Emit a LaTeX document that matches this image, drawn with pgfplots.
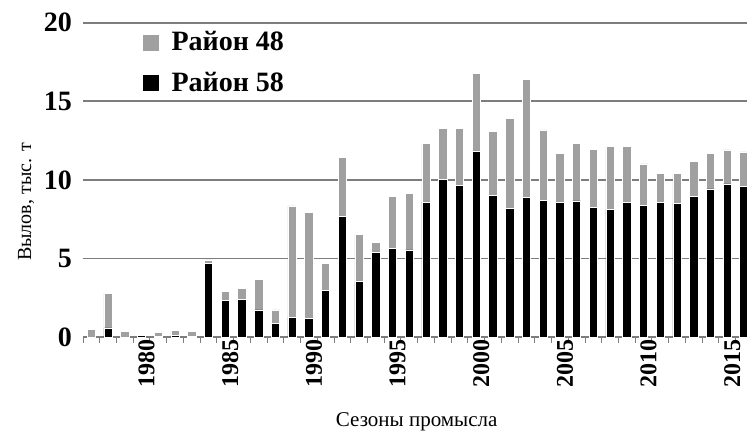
\documentclass[border=0pt]{standalone}
\usepackage{fontspec}
\setmainfont{Liberation Serif}
\usepackage{pgfplots}
\usepackage{pgfplotstable}
\pgfplotsset{compat=1.18}
\definecolor{bargray}{RGB}{160,160,160}
\definecolor{gridgray}{RGB}{125,125,125}
\pgfplotstableread{
year a58 a48
1977 0.00 0.52
1978 0.60 2.20
1979 0.00 0.35
1980 0.10 0.03
1981 0.05 0.28
1982 0.10 0.33
1983 0.05 0.30
1984 4.70 0.22
1985 2.35 0.55
1986 2.43 0.70
1987 1.74 1.95
1988 0.89 0.85
1989 1.27 7.08
1990 1.20 6.75
1991 3.00 1.70
1992 7.71 3.73
1993 3.54 3.01
1994 5.38 0.64
1995 5.63 3.35
1996 5.55 3.58
1997 8.60 3.73
1998 10.04 3.25
1999 9.66 3.63
2000 11.84 4.94
2001 9.03 4.07
2002 8.18 5.72
2003 8.88 7.52
2004 8.71 4.47
2005 8.58 3.12
2006 8.67 3.66
2007 8.26 3.69
2008 8.14 3.98
2009 8.60 3.52
2010 8.41 2.61
2011 8.60 1.80
2012 8.52 1.88
2013 8.98 2.18
2014 9.43 2.27
2015 9.75 2.16
2016 9.57 2.21
}\catchtable
\begin{document}
\begin{tikzpicture}
\begin{axis}[
  at={(83bp,93.7bp)}, anchor=south west,
  scale only axis,
  width=664bp, height=314.6bp,
  xmin=1976.5, xmax=2016.18,
  ymin=0, ymax=20,
  ybar stacked, bar width=0.5,
  axis line style={draw=none},
  xtick pos=bottom, ytick pos=left,
  tick align=outside,
  major tick length=0pt,
  minor tick length=5.5bp,
  xtick={1980,1985,...,2015},
  minor xtick={1976.5,1977.5,...,2015.5},
  minor tick style={draw=gridgray, line width=1bp},
  ytick={0,5,...,20},
  ymajorgrids=true,
  major grid style={draw=gridgray, line width=1.7bp},
  /pgf/number format/assume math mode=true,
  /pgf/number format/1000 sep={},
  xticklabel style={rotate=90, anchor=east, font=\fontsize{24bp}{26bp}\selectfont\bfseries, inner sep=2bp, yshift=-5bp},
  yticklabel style={font=\fontsize{28bp}{30bp}\selectfont\bfseries, inner sep=0pt, xshift=-11bp},
  xlabel={Сезоны промысла},
  ylabel={Вылов, тыс. т},
  xlabel style={at={(rel axis cs:0.5025,-0.282)}, anchor=base, font=\fontsize{21bp}{23bp}\selectfont},
  ylabel style={at={(rel axis cs:-0.0858,0.43)}, anchor=center, font=\fontsize{20bp}{22bp}\selectfont},
  reverse legend,
  legend style={at={(rel axis cs:0.0904,0.98)}, anchor=north west, draw=none, fill=none,
    font=\fontsize{28bp}{30bp}\selectfont\bfseries, row sep=16bp, inner sep=0pt},
  legend image code/.code={\path[#1,draw=none] (0bp,-9bp) rectangle (16bp,7bp); \path (16bp,0bp) -- (26bp,0bp);},
]
\addplot[fill=black, draw=white, line width=0.7bp] table[x=year, y=a58] {\catchtable};
\addlegendentry{Район 58}
\addplot[fill=bargray, draw=white, line width=0.7bp] table[x=year, y=a48] {\catchtable};
\addlegendentry{Район 48}
\end{axis}
\pgfresetboundingbox
\useasboundingbox (0,0) rectangle (747bp,431bp);
\end{tikzpicture}
\end{document}
